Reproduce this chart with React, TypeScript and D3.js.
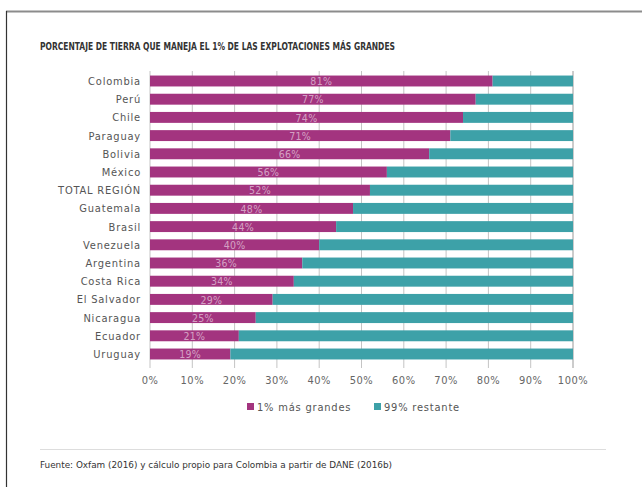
import React from 'react'
import * as d3 from 'd3'

// data
const countries = ['Colombia', 'Perú', 'Chile', 'Paraguay', 'Bolivia', 'México', 'TOTAL REGIÓN', 'Guatemala',
  'Brasil', 'Venezuela', 'Argentina', 'Costa Rica', 'El Salvador', 'Nicaragua', 'Ecuador', 'Uruguay']
const topShare = [81, 77, 74, 71, 66, 56, 52, 48, 44, 40, 36, 34, 29, 25, 21, 19]
const restShare = topShare.map(v => 100 - v)
const ticks = [0, 10, 20, 30, 40, 50, 60, 70, 80, 90, 100]
const seriesNames = ['1% más grandes', '99% restante']

const colors = ['#a3347f', '#3da1a8']
const font = '"DejaVu Sans Condensed", "DejaVu Sans", sans-serif'

export default function App() {
  const W = 642, H = 487
  const x = d3.scaleLinear().domain([0, 100]).range([150, 573])
  const y = d3.scaleBand().domain(countries).range([71.9, 363.1]).paddingInner(0.4).paddingOuter(0.2)
  const bw = y.bandwidth()

  return (
    <svg width={W} height={H} style={{ position: 'absolute', left: 0, top: 0, background: '#fff' }} fontFamily={font}>
      {/* frame */}
      <line x1={6} x2={W} y1={11.5} y2={11.5} stroke="#8c8c8c" strokeWidth={2} />
      <line x1={6.5} x2={6.5} y1={11} y2={H} stroke="#333" strokeWidth={1.2} />

      <text x={40} y={50} fontSize={10.2} fontWeight="bold" fill="#333" textLength={355} lengthAdjust="spacingAndGlyphs">
        PORCENTAJE DE TIERRA QUE MANEJA EL 1% DE LAS EXPLOTACIONES MÁS GRANDES
      </text>

      {/* grid */}
      {ticks.map(t => (
        <line key={t} x1={x(t)} x2={x(t)} y1={71} y2={368} stroke={t === 100 ? '#999' : '#c4c4c4'} strokeWidth={1} />
      ))}

      {countries.map((c, i) => {
        const yy = y(c) as number
        return (
          <g key={c}>
            <rect x={x(0)} y={yy} width={x(topShare[i]) - x(0)} height={bw} fill={colors[0]} />
            <rect x={x(topShare[i])} y={yy} width={x(topShare[i] + restShare[i]) - x(topShare[i])} height={bw} fill={colors[1]} />
            <text x={(x(0) + x(topShare[i])) / 2} y={yy + bw / 2} dy="0.4em" textAnchor="middle" fontSize={10.5}
              letterSpacing={0.3} fill="#fff" fillOpacity={0.55}>{topShare[i]}%</text>
            <text x={141} y={yy + bw / 2} dy="0.36em" textAnchor="end" fontSize={11} letterSpacing={0.8} fill="#555">{c}</text>
          </g>
        )
      })}

      {ticks.map(t => (
        <text key={t} x={x(t)} y={384} textAnchor="middle" fontSize={11} letterSpacing={0.5} fill="#666">{t}%</text>
      ))}

      {/* legend */}
      <rect x={247} y={403} width={7} height={7} fill={colors[0]} />
      <text x={257} y={410.5} fontSize={11} letterSpacing={0.8} fill="#555">{seriesNames[0]}</text>
      <rect x={374} y={403} width={7} height={7} fill={colors[1]} />
      <text x={384} y={410.5} fontSize={11} letterSpacing={0.8} fill="#555">{seriesNames[1]}</text>

      {/* footer */}
      <line x1={40} x2={606} y1={449.5} y2={449.5} stroke="#ddd" strokeWidth={1} />
      <text x={40} y={468} fontSize={9.5} fill="#333" textLength={352} lengthAdjust="spacingAndGlyphs">
        Fuente: Oxfam (2016) y cálculo propio para Colombia a partir de DANE (2016b)
      </text>
    </svg>
  )
}
